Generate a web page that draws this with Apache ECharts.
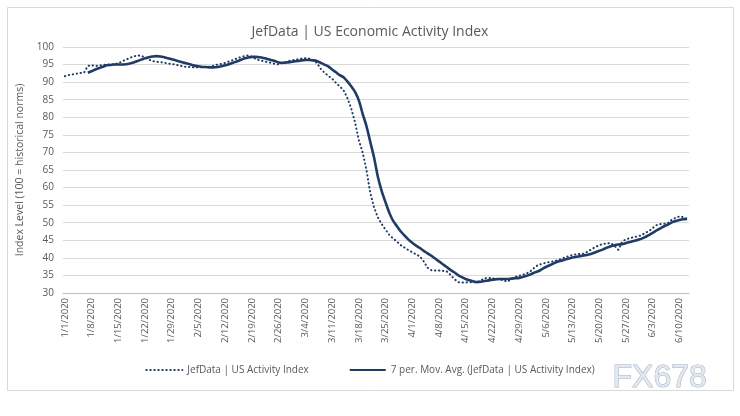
<!DOCTYPE html>
<html>
<head>
<meta charset="utf-8">
<script src="https://cdn.jsdelivr.net/npm/echarts@6/dist/echarts.min.js"></script>
<style>
html,body{margin:0;padding:0;background:#fff;}
#c{width:740px;height:416px;}
</style>
</head>
<body>
<div id="c"></div>
<script>
var titleText = 'JefData | US Economic Activity Index';
var yAxisName = 'Index Level (100 = historical norms)';
var seriesNames = ['JefData | US Activity Index', '7 per. Mov. Avg. (JefData | US Activity Index)'];

// daily dates 1/1/2020 .. 6/12/2020
var monthDays = [[1,31],[2,29],[3,31],[4,30],[5,31],[6,12]];
var dates = [];
monthDays.forEach(function(m){ for (var d=1; d<=m[1]; d++) dates.push(m[0]+'/'+d+'/2020'); });

var activityIndex = [
91.7,92.0,92.2,92.4,92.6,92.7,94.6,94.8,94.6,94.7,
94.9,95.0,95.0,95.1,95.4,95.9,96.4,96.9,97.3,97.6,
97.5,97.0,96.4,96.0,95.8,95.7,95.5,95.3,95.2,95.0,
94.7,94.5,94.3,94.3,94.2,94.3,94.2,94.3,94.4,94.7,
95.0,95.2,95.5,95.9,96.3,96.7,97.1,97.4,97.6,97.2,
96.6,96.2,96.0,95.7,95.5,95.2,95.1,95.4,95.8,96.1,
96.3,96.5,96.7,96.8,96.7,96.2,95.5,93.8,92.7,91.8,
91.0,89.8,88.8,87.7,85.5,82.5,78.6,73.5,70.0,65.0,
58.5,54.3,51.5,49.6,48.0,46.5,45.5,44.6,43.6,42.9,
42.2,41.6,41.0,40.4,39.0,37.2,36.5,36.4,36.4,36.3,
36.2,35.2,34.0,33.1,33.0,33.0,33.1,33.0,33.1,33.6,
34.2,34.3,34.2,34.0,33.9,33.5,33.3,34.0,34.6,34.9,
35.2,35.6,36.2,37.2,38.0,38.3,38.6,38.8,39.0,39.3,
39.7,40.1,40.5,40.8,41.0,41.1,41.2,41.8,42.5,43.1,
43.6,44.0,44.1,44.2,43.4,42.3,44.6,45.3,45.6,45.9,
46.1,46.4,47.1,47.6,48.5,49.3,49.6,49.7,49.9,50.9,
51.4,51.8,51.6,51.0
];

var movingAvg = [
null,null,null,null,null,null,92.7,93.1,93.6,94.0,
94.4,94.8,94.9,95.0,95.0,95.0,95.1,95.3,95.6,96.0,
96.4,96.8,97.1,97.3,97.4,97.3,97.1,96.8,96.5,96.2,
95.9,95.6,95.3,95.0,94.7,94.5,94.3,94.3,94.2,94.2,
94.3,94.5,94.8,95.1,95.5,95.9,96.3,96.7,97.0,97.2,
97.2,97.1,96.9,96.6,96.3,96.0,95.6,95.5,95.6,95.7,
95.9,96.0,96.2,96.3,96.3,96.2,96.0,95.5,95.0,94.5,
93.6,92.8,92.0,91.4,90.2,88.8,87.2,84.8,81.0,77.5,
73.0,68.5,63.0,59.0,55.8,52.8,50.5,49.0,47.5,46.3,
45.2,44.3,43.5,42.8,42.0,41.3,40.6,39.8,39.0,38.2,
37.4,36.6,35.9,35.1,34.5,34.0,33.6,33.3,33.1,33.2,
33.4,33.6,33.8,33.9,34.0,34.0,34.0,34.1,34.2,34.3,
34.6,34.9,35.3,35.8,36.2,36.8,37.4,37.9,38.4,38.9,
39.2,39.5,39.8,40.1,40.3,40.5,40.7,40.9,41.2,41.6,
42.0,42.4,42.9,43.3,43.6,43.8,43.9,44.2,44.5,44.8,
45.1,45.4,45.9,46.5,47.1,47.8,48.4,49.0,49.5,50.1,
50.5,50.8,51.0,51.1
];

var yMin = 30, yMax = 100, yStep = 5;
var watermark = 'FX678';

var FONT = '"Open Sans", "Liberation Sans", Arial, sans-serif';
var TXT = '#595959';
var NAVY = '#1f3b66';

var chart = echarts.init(document.getElementById('c'), null, {renderer:'canvas'});
chart.setOption({
  animation: false,
  backgroundColor: '#fff',
  textStyle: {fontFamily: FONT},
  title: {
    text: titleText, left: 'center', top: 20,
    textStyle: {fontFamily: FONT, fontSize: 14, fontWeight: 'normal', color: TXT}
  },
  graphic: [
    {type:'rect', shape:{x:7.5, y:7.5, width:726, height:383}, style:{fill:'none', stroke:'#d9d9d9', lineWidth:1}, z:-1},
    {type:'text', left: 612, top: 362, style:{text: watermark, font:'32px "Liberation Sans", Arial, sans-serif', fill:'#e3e9f1', stroke:'#9fadc2', lineWidth:1}, z:100}
  ],
  legend: {
    bottom: 36, left: 'center',
    itemWidth: 36, itemHeight: 10, itemGap: 40,
    itemStyle: {opacity: 0},
    textStyle: {fontFamily: FONT, fontSize: 10, color: TXT},
    data: [seriesNames[0], seriesNames[1]]
  },
  grid: {left: 63, right: 51, top: 47, bottom: 123, containLabel: false},
  xAxis: {
    type: 'category', data: dates, boundaryGap: true,
    axisLine: {lineStyle: {color: '#bfbfbf'}},
    axisTick: {interval: 6, alignWithLabel: true, length: 5, lineStyle: {color: '#bfbfbf'}},
    axisLabel: {interval: 6, rotate: 90, fontFamily: FONT, fontSize: 9.5, color: TXT, margin: 5},
    splitLine: {show: false}
  },
  yAxis: {
    type: 'value', min: yMin, max: yMax, interval: yStep,
    name: yAxisName, nameLocation: 'middle', nameGap: 22, nameRotate: 90,
    nameTextStyle: {fontFamily: FONT, fontSize: 10.5, color: TXT},
    axisLine: {show: false}, axisTick: {show: false},
    axisLabel: {fontFamily: FONT, fontSize: 10, color: TXT, margin: 9},
    splitLine: {lineStyle: {color: '#d9d9d9', width: 1}}
  },
  series: [
    {
      name: seriesNames[0], type: 'line', data: activityIndex, symbol: 'none',
      lineStyle: {color: NAVY, width: 2, type: [0.4, 3.6], cap: 'round'},
      itemStyle: {color: NAVY}, z: 2
    },
    {
      name: seriesNames[1], type: 'line', data: movingAvg, symbol: 'none', smooth: 0.3,
      lineStyle: {color: NAVY, width: 2.6},
      itemStyle: {color: NAVY}, z: 3
    }
  ]
});
</script>
</body>
</html>
